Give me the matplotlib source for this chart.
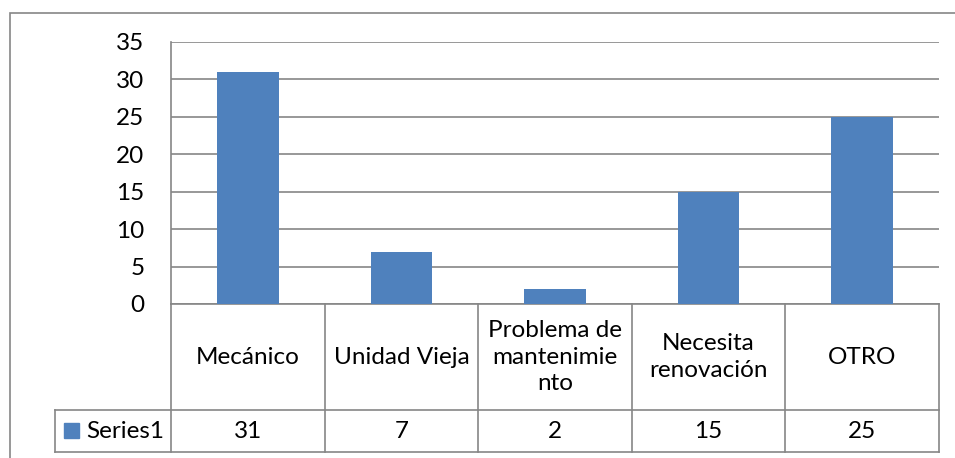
import matplotlib.pyplot as plt
from matplotlib.patches import Rectangle

plt.rcParams['font.family'] = ['Lato', 'DejaVu Sans']

# data
categories = ["Mecánico", "Unidad Vieja", "Problema de\nmantenimie\nnto", "Necesita\nrenovación", "OTRO"]
values = [31, 7, 2, 15, 25]
series_name = "Series1"
yticks = [0, 5, 10, 15, 20, 25, 30, 35]

bar_color = '#4F81BD'
line_gray = '#868686'
W, H = 955, 458
FS = 17.5


def px(x0, y0, x1, y1):
    # pixel box (top-left origin) -> figure fraction
    return [x0 / W, 1 - y1 / H, (x1 - x0) / W, (y1 - y0) / H]


fig = plt.figure(figsize=(W / 100, H / 100), dpi=100)

# outer chart frame (cut off at right and bottom)
fig.patches.append(Rectangle((10 / W, -0.1), 2, 1 - 13 / H + 0.1, transform=fig.transFigure,
                             fill=False, edgecolor=line_gray, lw=1.2))

#----------------------------------------------------------- bars
ax = fig.add_axes(px(171, 42, 939, 304))
xs = list(range(len(categories)))
ax.bar(xs, values, width=0.4, color=bar_color, zorder=3)
ax.set_xlim(-0.5, len(categories) - 0.5)
ax.set_ylim(yticks[0], yticks[-1])
ax.set_yticks(yticks)
ax.set_xticks([])
ax.grid(axis='y', color=line_gray, lw=1.2, zorder=0)
for s in ['top', 'right']:
    ax.spines[s].set_visible(False)
for s in ['left', 'bottom']:
    ax.spines[s].set_color(line_gray)
    ax.spines[s].set_linewidth(1.2)
ax.tick_params(axis='y', length=0, pad=19, labelsize=FS, colors='black')

#----------------------------------------------------------- data table
cat_w = 768 / len(categories)
leg_left = -0.5 - 116 / cat_w
tax = fig.add_axes(px(55, 304, 939, 452))
tax.set_xlim(leg_left, len(categories) - 0.5)
tax.set_ylim(0, 148)
tax.axis('off')

kw = dict(color=line_gray, lw=1.2, clip_on=False)
tax.plot([leg_left, len(categories) - 0.5], [0, 0], **kw)
tax.plot([leg_left, len(categories) - 0.5], [42, 42], **kw)
tax.plot([leg_left, leg_left], [0, 42], **kw)
for i in range(len(categories) + 1):
    tax.plot([i - 0.5, i - 0.5], [0, 148], **kw)

for i, (c, v) in enumerate(zip(categories, values)):
    tax.text(i, 95, c, ha='center', va='center', fontsize=FS, linespacing=1.35)
    tax.text(i, 21, str(v), ha='center', va='center', fontsize=FS)

tax.add_patch(Rectangle((leg_left + 9 / cat_w, 14), 15 / cat_w, 15, color=bar_color, clip_on=False))
tax.text(leg_left + 31 / cat_w, 21, series_name, ha='left', va='center', fontsize=FS)

fig.savefig('out.png', dpi=100)
